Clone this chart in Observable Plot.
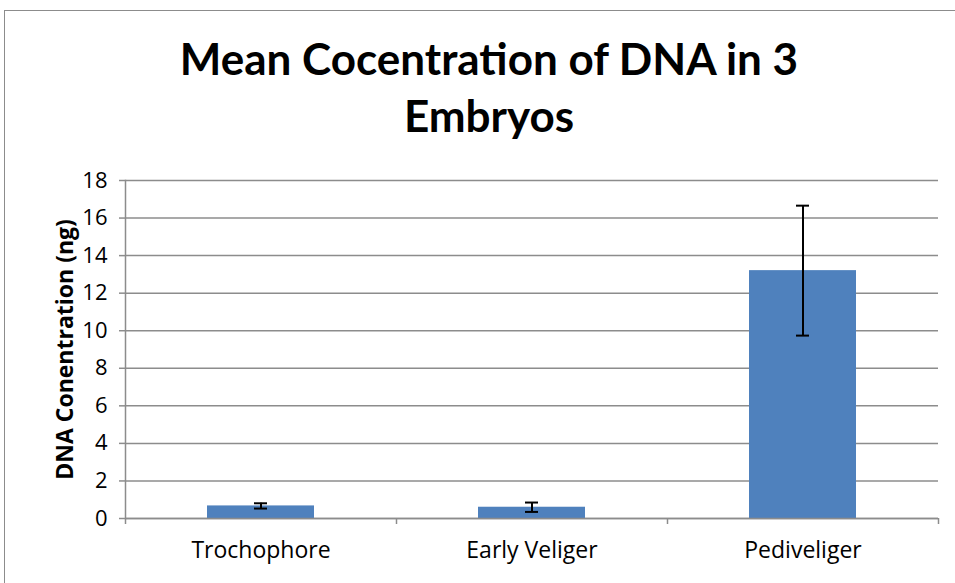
<!DOCTYPE html>
<html>
<head>
<meta charset="utf-8">
<script src="https://cdn.jsdelivr.net/npm/d3@7"></script>
<script src="https://cdn.jsdelivr.net/npm/@observablehq/plot@0.6"></script>
<style>
  html, body { margin: 0; padding: 0; background: #fff; }
  #wrap { position: relative; width: 955px; height: 583px; overflow: hidden; font-family: Lato, "Open Sans", sans-serif; }
  #frame { position: absolute; left: 4px; top: 10px; width: 970px; height: 600px; border: 1.5px solid #8c8c8c; box-sizing: border-box; }
  #title { position: absolute; left: 0; top: 30px; width: 978px; text-align: center; font-weight: bold; font-size: 44px; line-height: 57px; color: #000; }
  #chart { position: absolute; left: 0; top: 160px; }
</style>
</head>
<body>
<div id="wrap">
  <div id="frame"></div>
  <div id="title">Mean Cocentration of DNA in 3<br>Embryos</div>
  <div id="chart"></div>
</div>
<script>
const stages = ["Trochophore", "Early Veliger", "Pediveliger"];
const means = [0.67, 0.60, 13.2];
const errors = [0.14, 0.25, 3.46];
const yTicks = [0, 2, 4, 6, 8, 10, 12, 14, 16, 18];
const yLabel = "DNA Conentration (ng)";

const data = stages.map((s, i) => ({stage: s, mean: means[i], lo: means[i] - errors[i], hi: means[i] + errors[i]}));
const font = "'Open Sans', Lato, sans-serif";

const chart = Plot.plot({
  width: 955,
  height: 423,
  marginLeft: 125,
  marginRight: 17,
  marginTop: 20,
  marginBottom: 65,
  style: {fontFamily: font, color: "#000", background: "transparent"},
  x: {domain: stages, padding: 0},
  y: {domain: [0, 18]},
  marks: [
    Plot.gridY(yTicks, {stroke: "#8c8c8c", strokeOpacity: 1, strokeWidth: 1.5}),
    Plot.barY(data, {x: "stage", y: "mean", fill: "#4F81BD", insetLeft: 82, insetRight: 82}),
    Plot.ruleX(data, {x: "stage", y1: "lo", y2: "hi", stroke: "#000", strokeWidth: 2}),
    Plot.tickY(data, {x: "stage", y: "lo", stroke: "#000", strokeWidth: 2, insetLeft: 129, insetRight: 129}),
    Plot.tickY(data, {x: "stage", y: "hi", stroke: "#000", strokeWidth: 2, insetLeft: 129, insetRight: 129}),
    Plot.ruleY([0], {stroke: "#8c8c8c", strokeWidth: 1.5}),
    // category boundary ticks below the axis
    Plot.tickX(stages, {x: d => d, dx: -135.5, insetTop: 338, insetBottom: -6, stroke: "#8c8c8c", strokeWidth: 1.5}),
    Plot.tickX([stages[stages.length - 1]], {x: d => d, dx: 135.5, insetTop: 338, insetBottom: -6, stroke: "#8c8c8c", strokeWidth: 1.5}),
    Plot.axisY({ticks: yTicks, tickSize: 6, tickPadding: 12, stroke: "#8c8c8c", strokeWidth: 1.5, fill: "#000", fontSize: 22, label: null}),
    Plot.frame({anchor: "left", stroke: "#8c8c8c", strokeWidth: 1.5}),
    Plot.axisX({tickSize: 0, tickPadding: 23, label: null, fill: "#000", fontSize: 23}),
    Plot.text([yLabel], {text: d => d, frameAnchor: "left", textAnchor: "middle", rotate: -90, dx: -60, fontSize: 23, fontWeight: "bold", fill: "#000"})
  ]
});
document.getElementById("chart").appendChild(chart);
</script>
</body>
</html>
